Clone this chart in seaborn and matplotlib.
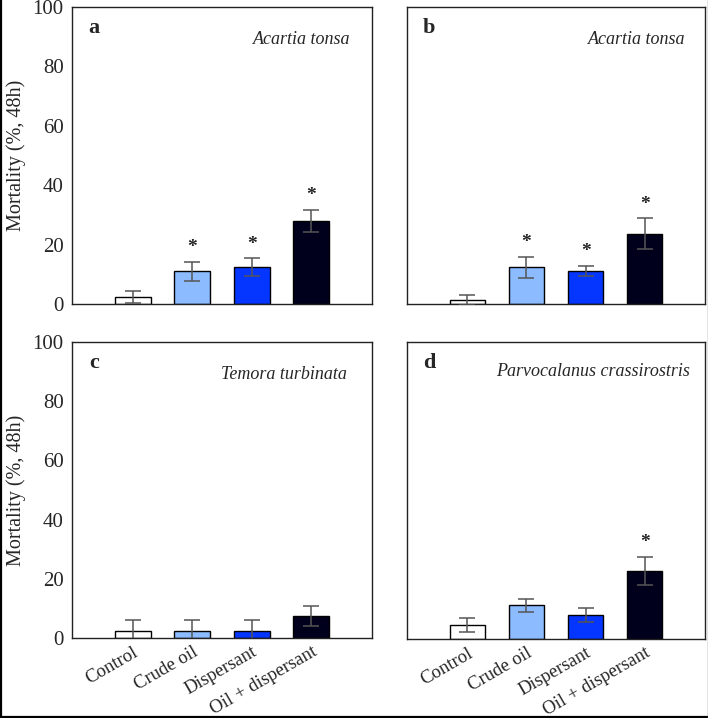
import numpy as np
import pandas as pd
import matplotlib
matplotlib.use("Agg")
import matplotlib.pyplot as plt
import seaborn as sns
from matplotlib.lines import Line2D

# ---------------- data ----------------
treatments = ["Control", "Crude oil", "Dispersant", "Oil + dispersant"]
bar_colors = ["#ffffff", "#8cbcff", "#0536ff", "#00001c"]

panel_letters = ["a", "b", "c", "d"]
species = ["Acartia tonsa", "Acartia tonsa", "Temora turbinata", "Parvocalanus crassirostris"]

mort_a = [2.5, 11.1, 12.5, 28.0]
err_a = [2.0, 3.2, 3.0, 3.8]
sig_a = [False, True, True, True]

mort_b = [1.2, 12.4, 11.1, 23.7]
err_b = [1.7, 3.5, 1.8, 5.2]
sig_b = [False, True, True, True]

mort_c = [2.5, 2.5, 2.5, 7.5]
err_c = [3.6, 3.6, 3.6, 3.4]
sig_c = [False, False, False, False]

mort_d = [4.7, 11.3, 8.1, 23.0]
err_d = [2.3, 2.3, 2.3, 4.7]
sig_d = [False, False, False, True]

y_ticks = [0, 20, 40, 60, 80, 100]

# ---------------- style ----------------
sns.set_style("white")
plt.rcParams["font.family"] = ["Liberation Serif", "DejaVu Serif"]

fig = plt.figure(figsize=(7.08, 7.18), dpi=100)
W, H = 708, 718

def axes_px(left, top, right, bottom):
    return fig.add_axes([left / W, 1 - bottom / H, (right - left) / W, (bottom - top) / H])

axs = [
    axes_px(72, 7, 372, 304),
    axes_px(407, 7, 705, 304),
    axes_px(72, 342, 372, 638),
    axes_px(407, 342, 705, 639),
]

means = [mort_a, mort_b, mort_c, mort_d]
errs = [err_a, err_b, err_c, err_d]
sigs = [sig_a, sig_b, sig_c, sig_d]
letter_pos = [(0.073, 0.93), (0.074, 0.93), (0.073, 0.93), (0.074, 0.93)]
species_pos = [(0.927, 0.89), (0.933, 0.89), (0.915, 0.89), (0.95, 0.90)]
palette = dict(zip(treatments, bar_colors))

for i, ax in enumerate(axs):
    df = pd.DataFrame({"Treatment": treatments, "Mortality": means[i]})
    sns.barplot(data=df, x="Treatment", y="Mortality", hue="Treatment",
                palette=palette, order=treatments, hue_order=treatments,
                width=0.6, edgecolor="black", linewidth=1.0,
                errorbar=None, legend=False, ax=ax, saturation=1)
    xs = np.arange(len(treatments))
    ax.errorbar(xs, means[i], yerr=errs[i], fmt="none", ecolor="#555555",
                elinewidth=1.1, capsize=5.5, capthick=1.1, zorder=5)
    for x, m, e, s in zip(xs, means[i], errs[i], sigs[i]):
        if s:
            ax.text(x, m + e + 1.8, "*", ha="center", va="bottom",
                    fontsize=14, fontweight="bold", color="#222222")
    ax.set_xlim(-1.02, 4.02)
    ax.set_ylim(0, 100)
    ax.set_yticks(y_ticks)
    for sp in ax.spines.values():
        sp.set_visible(True)
        sp.set_color("#222222")
        sp.set_linewidth(1.0)
    ax.tick_params(axis="both", direction="out", length=4, width=1, color="#222222",
                   labelsize=15, pad=2)
    ax.set_xlabel("")
    if i in (0, 2):
        ax.set_ylabel("Mortality (%, 48h)", fontsize=14.5, labelpad=5)
    else:
        ax.set_ylabel("")
        ax.set_yticklabels([])
    ax.set_xticks(xs)
    if i in (2, 3):
        ax.set_xticklabels(treatments, rotation=30, ha="right", va="top",
                           rotation_mode="anchor", fontsize=13.5)
        ax.tick_params(axis="x", pad=0)
    else:
        ax.set_xticklabels([])
    ax.text(letter_pos[i][0], letter_pos[i][1], panel_letters[i], transform=ax.transAxes,
            fontsize=16, fontweight="bold", ha="center", va="center")
    ax.text(species_pos[i][0], species_pos[i][1], species[i], transform=ax.transAxes,
            fontsize=13, fontstyle="italic", ha="right", va="center")

# outer frame of the figure
fig.add_artist(Line2D([0.001, 0.001], [0, 1], transform=fig.transFigure, color="black", lw=1.6))
fig.add_artist(Line2D([0, 1], [0.002, 0.002], transform=fig.transFigure, color="black", lw=1.6))
fig.add_artist(Line2D([0.9993, 0.9993], [0, 1], transform=fig.transFigure, color="#777777", lw=1.0))

fig.savefig("out.png", dpi=100)
